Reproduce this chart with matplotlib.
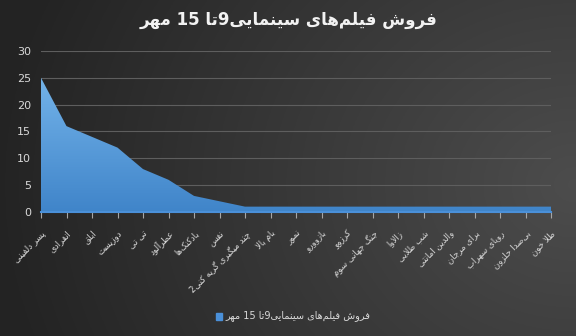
import re
import numpy as np
import matplotlib
matplotlib.use("Agg")
import matplotlib.pyplot as plt
from matplotlib.path import Path
from matplotlib.patches import PathPatch

# ---------------- data ----------------
title = "فروش فیلم‌های سینمایی9تا 15 مهر"
series_name = "فروش فیلم‌های سینمایی9تا 15 مهر"
categories = [
    "پسر دلفینی", "انفرادی", "ابلق", "دوزیست", "تی تی", "عطرآلود",
    "بادکنک‌ها", "نفس", "چند میگیری گریه کنی2", "بام بالا", "نمور",
    "بازوورو", "کرزوو", "جنگ جهانی سوم", "زالاوا", "شب طلایی",
    "والدین امانتی", "برای مرجان", "رویای سهراب", "بی‌صدا حلزون", "طلا خون",
]
values = [25, 16, 14, 12, 8, 6, 3, 2, 1, 1, 1, 1, 1, 1, 1, 1, 1, 1, 1, 1, 1]
y_ticks = [0, 5, 10, 15, 20, 25, 30]

# ------------- simple Arabic/Persian shaping -------------
FORMS = {
    'ا': ('\uFE8D', '\uFE8E', None, None),
    'آ': ('\uFE81', '\uFE82', None, None),
    'ب': ('\uFE8F', '\uFE90', '\uFE91', '\uFE92'),
    'پ': ('\uFB56', '\uFB57', '\uFB58', '\uFB59'),
    'ت': ('\uFE95', '\uFE96', '\uFE97', '\uFE98'),
    'ث': ('\uFE99', '\uFE9A', '\uFE9B', '\uFE9C'),
    'ج': ('\uFE9D', '\uFE9E', '\uFE9F', '\uFEA0'),
    'چ': ('\uFB7A', '\uFB7B', '\uFB7C', '\uFB7D'),
    'ح': ('\uFEA1', '\uFEA2', '\uFEA3', '\uFEA4'),
    'خ': ('\uFEA5', '\uFEA6', '\uFEA7', '\uFEA8'),
    'د': ('\uFEA9', '\uFEAA', None, None),
    'ذ': ('\uFEAB', '\uFEAC', None, None),
    'ر': ('\uFEAD', '\uFEAE', None, None),
    'ز': ('\uFEAF', '\uFEB0', None, None),
    'ژ': ('\uFB8A', '\uFB8B', None, None),
    'س': ('\uFEB1', '\uFEB2', '\uFEB3', '\uFEB4'),
    'ش': ('\uFEB5', '\uFEB6', '\uFEB7', '\uFEB8'),
    'ص': ('\uFEB9', '\uFEBA', '\uFEBB', '\uFEBC'),
    'ض': ('\uFEBD', '\uFEBE', '\uFEBF', '\uFEC0'),
    'ط': ('\uFEC1', '\uFEC2', '\uFEC3', '\uFEC4'),
    'ظ': ('\uFEC5', '\uFEC6', '\uFEC7', '\uFEC8'),
    'ع': ('\uFEC9', '\uFECA', '\uFECB', '\uFECC'),
    'غ': ('\uFECD', '\uFECE', '\uFECF', '\uFED0'),
    'ف': ('\uFED1', '\uFED2', '\uFED3', '\uFED4'),
    'ق': ('\uFED5', '\uFED6', '\uFED7', '\uFED8'),
    'ک': ('\uFB8E', '\uFB8F', '\uFB90', '\uFB91'),
    'گ': ('\uFB92', '\uFB93', '\uFB94', '\uFB95'),
    'ل': ('\uFEDD', '\uFEDE', '\uFEDF', '\uFEE0'),
    'م': ('\uFEE1', '\uFEE2', '\uFEE3', '\uFEE4'),
    'ن': ('\uFEE5', '\uFEE6', '\uFEE7', '\uFEE8'),
    'و': ('\uFEED', '\uFEEE', None, None),
    'ه': ('\uFEE9', '\uFEEA', '\uFEEB', '\uFEEC'),
    'ی': ('\uFBFC', '\uFBFD', '\uFBFE', '\uFBFF'),
    'ﻻ': ('\uFEFB', '\uFEFC', None, None),
    'ﻵ': ('\uFEF5', '\uFEF6', None, None),
}


def _dual(c):
    return c in FORMS and FORMS[c][2] is not None


def _joins(c):
    return c in FORMS


def shape_line(s):
    s = s.replace('لا', 'ﻻ').replace('لآ', 'ﻵ')
    chars = list(s)
    out = []
    for i, c in enumerate(chars):
        if c == '\u200c':
            continue
        if c not in FORMS:
            out.append(c)
            continue
        prev = chars[i - 1] if i > 0 else ''
        nxt = chars[i + 1] if i + 1 < len(chars) else ''
        cp = _dual(prev)
        cn = _dual(c) and _joins(nxt)
        iso, fin, ini, med = FORMS[c]
        if cp and cn:
            out.append(med)
        elif cp:
            out.append(fin)
        elif cn:
            out.append(ini)
        else:
            out.append(iso)
    vis = ''.join(out)[::-1]
    vis = re.sub(r'[0-9]+', lambda m: m.group(0)[::-1], vis)
    return vis


def rtl(s):
    return '\n'.join(shape_line(l) for l in s.split('\n'))


# ---------------- figure ----------------
W, H, DPI = 576, 336, 100
fig = plt.figure(figsize=(W / DPI, H / DPI), dpi=DPI)

# background gradient
bg = fig.add_axes([0, 0, 1, 1], zorder=-10)
gx = np.linspace(0, 1, 300)
gy = np.linspace(0, 1, 200)
GX, GY = np.meshgrid(gx, gy)
d = np.sqrt(((GX - 1.0) * 1.0) ** 2 + ((GY - 0.45) * 0.7) ** 2)
lum = 0.30 - 0.16 * np.clip(d, 0, 1)
img = np.dstack([lum, lum, lum])
bg.imshow(img, extent=[0, 1, 0, 1], aspect='auto', origin='lower')
bg.set_axis_off()

ax = fig.add_axes([41 / W, 1 - 212 / H, (551 - 41) / W, (212 - 51) / H])
ax.set_facecolor('none')
x = np.arange(len(categories))
ax.set_xlim(0, len(categories) - 1)
ax.set_ylim(0, 30)

# gradient-filled area
verts = [(0, 0)] + list(zip(x, values)) + [(x[-1], 0), (0, 0)]
codes = [Path.MOVETO] + [Path.LINETO] * (len(verts) - 2) + [Path.CLOSEPOLY]
patch = PathPatch(Path(verts, codes), facecolor='none', edgecolor='none')
ax.add_patch(patch)
grad = np.linspace(0, 1, 256).reshape(-1, 1)
top = np.array([0.46, 0.71, 0.92])
bot = np.array([0.25, 0.52, 0.79])
cimg = bot + (top - bot) * grad[:, :, None] * np.ones((1, 2, 1))
im = ax.imshow(cimg, extent=[0, x[-1], 0, 26], aspect='auto', origin='lower', zorder=2)
im.set_clip_path(patch)
ax.plot([0, x[-1]], [0, 0], color='#4a90d9', lw=1.5, zorder=3, clip_on=False)

for s in ax.spines.values():
    s.set_visible(False)
ax.set_yticks(y_ticks)
ax.set_yticklabels([str(v) for v in y_ticks], color='#d9d9d9', fontsize=8)
ax.tick_params(axis='y', length=0, pad=7)
ax.grid(axis='y', color='#5e5e5e', lw=0.8, zorder=0)
ax.set_axisbelow(True)

ax.set_xticks(x)
ax.set_xticklabels([rtl(c) for c in categories], rotation=45, ha='right',
                   va='top', rotation_mode='anchor', color='#d9d9d9',
                   fontsize=6.2)
ax.tick_params(axis='x', length=4, color='#a6a6a6', width=0.8, pad=8)

fig.text(289 / W, 1 - 20 / H, rtl(title), ha='center', va='center',
         color='#f2f2f2', fontsize=12, fontweight='bold')

# legend
fig.patches.append(plt.Rectangle((216 / W, 1 - 320 / H), 6 / W, 7 / H,
                                 transform=fig.transFigure, color='#4a90d9'))
fig.text(225 / W, 1 - 316 / H, rtl(series_name), ha='left', va='center',
         color='#d9d9d9', fontsize=7)

fig.savefig('out.png', dpi=DPI)
